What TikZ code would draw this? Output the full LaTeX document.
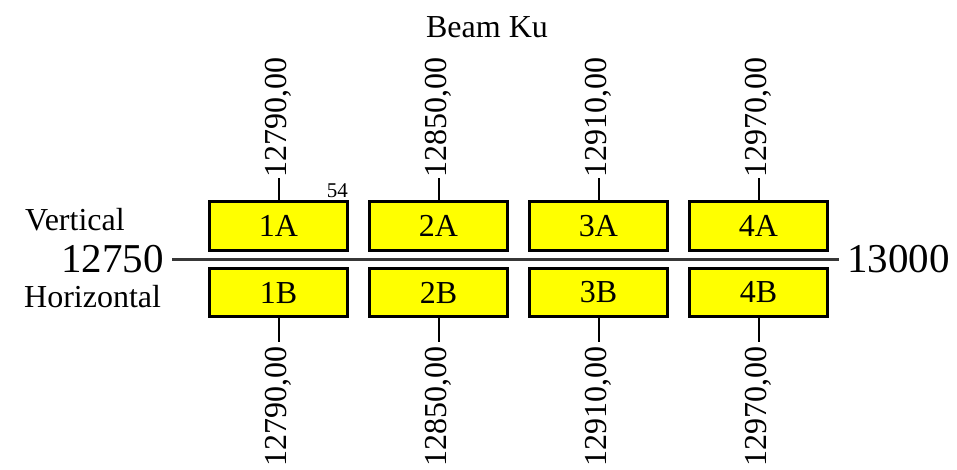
\documentclass[tikz,border=0pt]{standalone}
\usepackage{fontspec}
\setmainfont{Liberation Serif}
\definecolor{boxyellow}{RGB}{255,255,0}
\definecolor{axisgray}{RGB}{55,55,55}
\begin{document}
\begin{tikzpicture}[x=1pt,y=-1pt,
  box/.style={draw=black, line width=3pt, fill=boxyellow, minimum width=138.5pt, minimum height=48pt, inner sep=0pt, font=\fontsize{32}{38}\selectfont},
  lbl/.style={inner sep=0pt, font=\fontsize{32}{38}\selectfont},
  big/.style={inner sep=0pt, font=\fontsize{41}{49}\selectfont},
  small/.style={inner sep=0pt, font=\fontsize{21}{25}\selectfont},
  freq/.style={inner sep=0pt, rotate=90, font=\fontsize{32}{38}\selectfont},
  tick/.style={line width=2pt, black},
  axis/.style={line width=3pt, axisgray}]
\useasboundingbox (0,0) rectangle (957,470);
% title
\node[lbl, anchor=base] (title) at (487,38) {Beam Ku};
% axis
\node[big, anchor=east] (lo) at (164,259.5) {12750};
\node[big, anchor=west] (hi) at (847,259.5) {13000};
\coordinate (axl) at (172,259.5);
\coordinate (axr) at (839,259.5);
\draw[axis] (axl) -- (axr);
\node[lbl, anchor=base west] (vert) at (25,230) {Vertical};
\node[lbl, anchor=base west] (horiz) at (24,307) {Horizontal};
% boxes
\foreach \i/\f in {1/12790,2/12850,3/12910,4/12970}{
  \pgfmathsetmacro{\cx}{278.5+160*(\i-1)}
  \node[box] (a\i) at (\cx,226) {\i A};
  \node[box] (b\i) at (\cx,292.5) {\i B};
  \coordinate (ta\i) at (\cx,178);
  \coordinate (tb\i) at (\cx,342);
  \draw[tick] (a\i.north) -- (ta\i);
  \draw[tick] (b\i.south) -- (tb\i);
  \node[freq, anchor=west] (fa\i) at (ta\i) {\f,00};
  \node[freq, anchor=east] (fb\i) at ([yshift=-4pt]tb\i) {\f,00};
}
\node[small, anchor=base east] (n54) at (348,198) {54};
\end{tikzpicture}
\end{document}
